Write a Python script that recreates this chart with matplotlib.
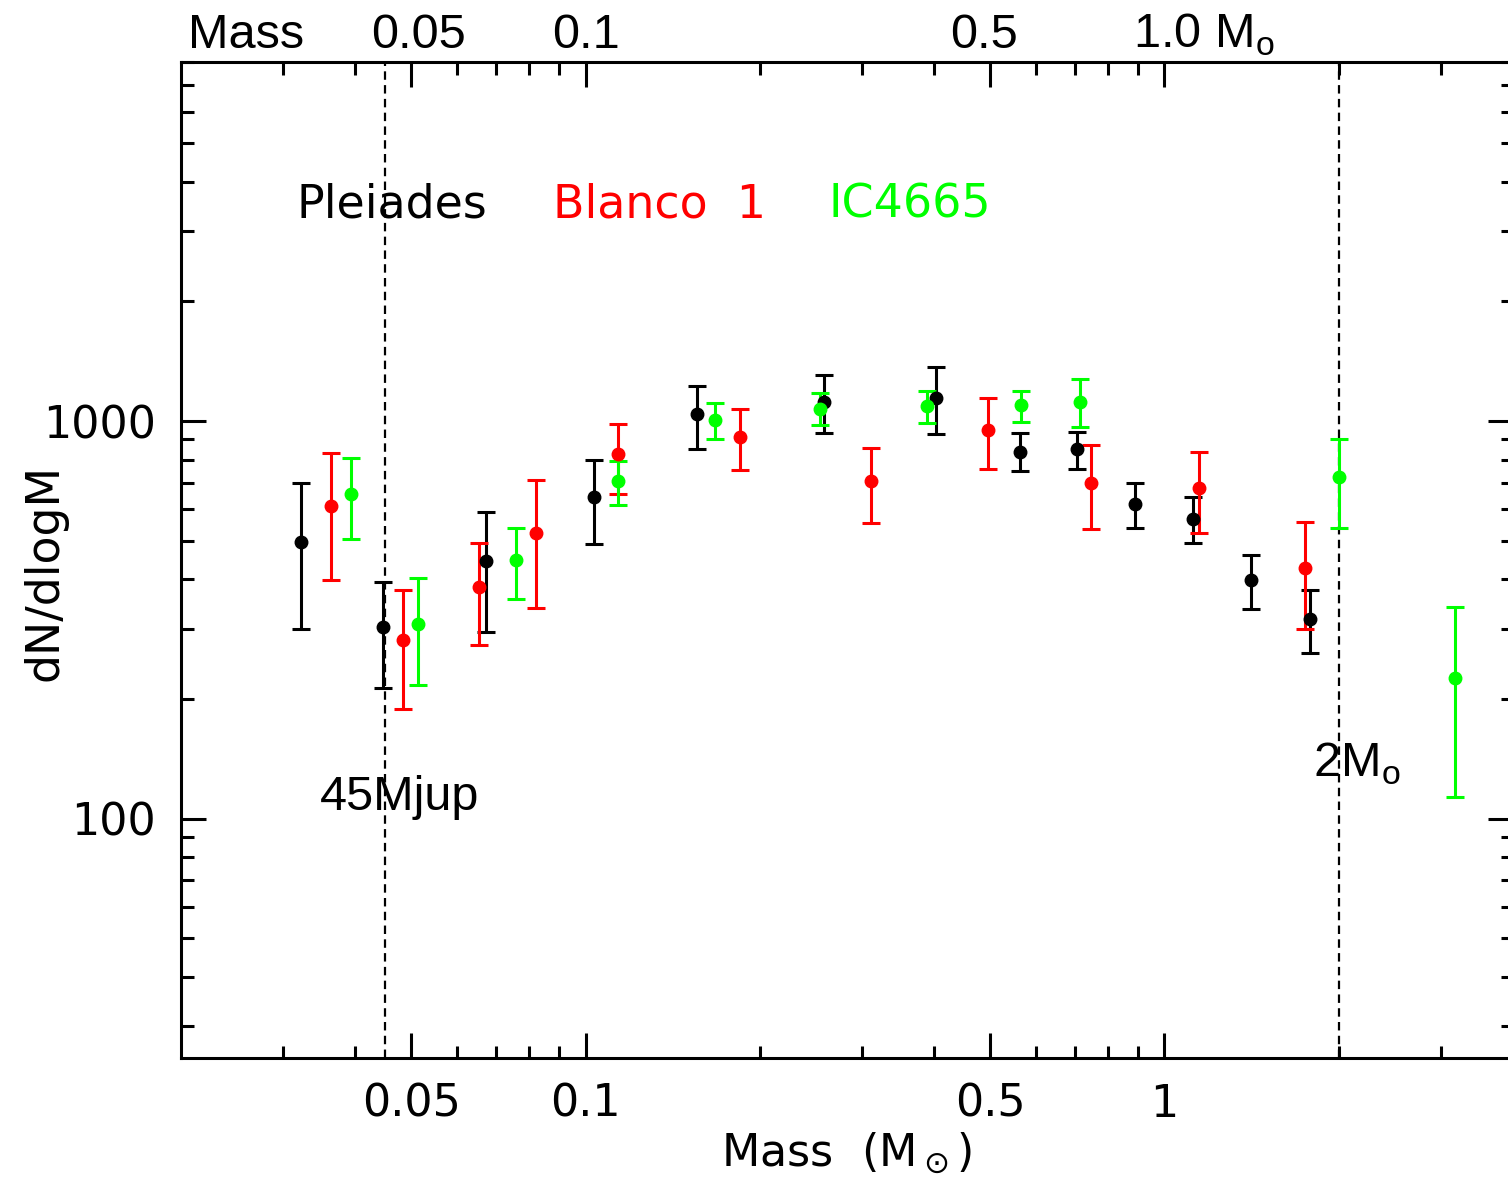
import numpy as np
import matplotlib
matplotlib.use('Agg')
import matplotlib.pyplot as plt
from matplotlib.ticker import FixedLocator, FixedFormatter, NullFormatter

plt.rcParams['mathtext.fontset'] = 'custom'
plt.rcParams['mathtext.rm'] = 'Liberation Sans'

# values: mass (Msun), dN/dlogM, lower and upper error ends
pl_m = np.array([0.0323, 0.0447, 0.0672, 0.1036, 0.156, 0.258, 0.403, 0.562, 0.705, 0.891, 1.122, 1.413, 1.785])
pl_y = np.array([497, 304, 445, 644, 1041, 1116, 1142, 836, 851, 619, 567, 399, 318])
pl_lo = np.array([300, 213, 295, 491, 851, 933, 928, 749, 757, 538, 494, 337, 261])
pl_hi = np.array([699, 394, 591, 798, 1224, 1305, 1367, 933, 938, 699, 644, 461, 376])

bl_m = np.array([0.0363, 0.0484, 0.0654, 0.082, 0.1136, 0.185, 0.311, 0.495, 0.748, 1.149, 1.751])
bl_y = np.array([612, 282, 383, 523, 826, 912, 707, 949, 699, 679, 427])
bl_lo = np.array([399, 189, 274, 339, 656, 753, 554, 757, 535, 523, 300])
bl_hi = np.array([831, 376, 494, 711, 983, 1072, 855, 1142, 870, 836, 558])

ic_m = np.array([0.0393, 0.0513, 0.0757, 0.1136, 0.1675, 0.254, 0.389, 0.565, 0.714, 2.003, 3.176])
ic_y = np.array([656, 309, 447, 707, 1006, 1072, 1091, 1097, 1116, 723, 226])
ic_lo = np.array([505, 217, 357, 615, 901, 977, 989, 994, 966, 538, 113])
ic_hi = np.array([807, 403, 538, 794, 1110, 1176, 1190, 1190, 1275, 901, 341])

cluster_names = ['Pleiades', 'Blanco  1', 'IC4665']
cluster_colors = ['black', '#ff0000', '#00ff00']

x_major = [0.05, 0.1, 0.5, 1]
x_major_labels = ['0.05', '0.1', '0.5', '1']
x_minor = [0.03, 0.04, 0.06, 0.07, 0.08, 0.09, 0.2, 0.3, 0.4, 0.6, 0.7, 0.8, 0.9, 2, 3]
y_major = [100, 1000]
y_major_labels = ['100', '1000']
mjup_limit = 0.045
msun_limit = 2.0

fig = plt.figure(figsize=(15.08, 11.85), dpi=100)
ax = fig.add_axes([0.12, 0.1072, 0.8833, 0.8405])

series = [(pl_m, pl_y, pl_lo, pl_hi), (bl_m, bl_y, bl_lo, bl_hi), (ic_m, ic_y, ic_lo, ic_hi)]
for (m, y, lo, hi), c in zip(series, cluster_colors):
    ax.errorbar(m, y, yerr=[y - lo, hi - y], fmt='o', color=c, ms=9,
                elinewidth=2.2, capsize=6.8, capthick=2.2, zorder=3)

ax.axvline(mjup_limit, color='black', lw=1.6, ls=(0, (3.8, 2.4)), zorder=2)
ax.axvline(msun_limit, color='black', lw=1.6, ls=(0, (3.8, 2.4)), zorder=2)

ax.set_xscale('log')
ax.set_yscale('log')
ax.set_xlim(0.02, 4)
ax.set_ylim(25, 8000)

ax.xaxis.set_major_locator(FixedLocator(x_major))
ax.xaxis.set_major_formatter(FixedFormatter(x_major_labels))
ax.xaxis.set_minor_locator(FixedLocator(x_minor))
ax.xaxis.set_minor_formatter(NullFormatter())
ax.yaxis.set_major_locator(FixedLocator(y_major))
ax.yaxis.set_major_formatter(FixedFormatter(y_major_labels))
ax.yaxis.set_minor_formatter(NullFormatter())

ax.tick_params(which='both', direction='in', top=True, right=True, width=2.2, labelsize=32)
ax.tick_params(which='major', length=18, pad=18)
ax.tick_params(which='minor', length=9)
for s in ax.spines.values():
    s.set_linewidth(2.2)

ax.set_xlabel(r'Mass  (M$_\odot$)', fontsize=32, labelpad=3, math_fontfamily='dejavusans')
fig.text(0.030, 0.517, 'dN/dlogM', rotation=90, fontsize=33, ha='center', va='center')

# legend written as coloured words
for name, c, xf in zip(cluster_names, cluster_colors, [0.087, 0.279, 0.486]):
    ax.text(xf, 0.856, name, color=c, fontsize=33, transform=ax.transAxes, va='center')

arial = 'Liberation Sans'
ax.text(0.1044, 0.249, '45Mjup', fontsize=35, family=arial, transform=ax.transAxes, va='baseline')
ax.text(0.85, 0.282, r'2M$_\mathrm{o}$', fontsize=35, family=arial, transform=ax.transAxes, va='baseline')

top_y = 0.9595
fig.text(0.1247, top_y, 'Mass', fontsize=35, family=arial, va='baseline')
fig.text(0.2772, top_y, '0.05', fontsize=35, family=arial, va='baseline', ha='center')
fig.text(0.3886, top_y, '0.1', fontsize=35, family=arial, va='baseline', ha='center')
fig.text(0.6525, top_y, '0.5', fontsize=35, family=arial, va='baseline', ha='center')
fig.text(0.7513, top_y, r'1.0 M$_\mathrm{o}$', fontsize=35, family=arial, va='baseline')

fig.savefig('out.png', dpi=100)
